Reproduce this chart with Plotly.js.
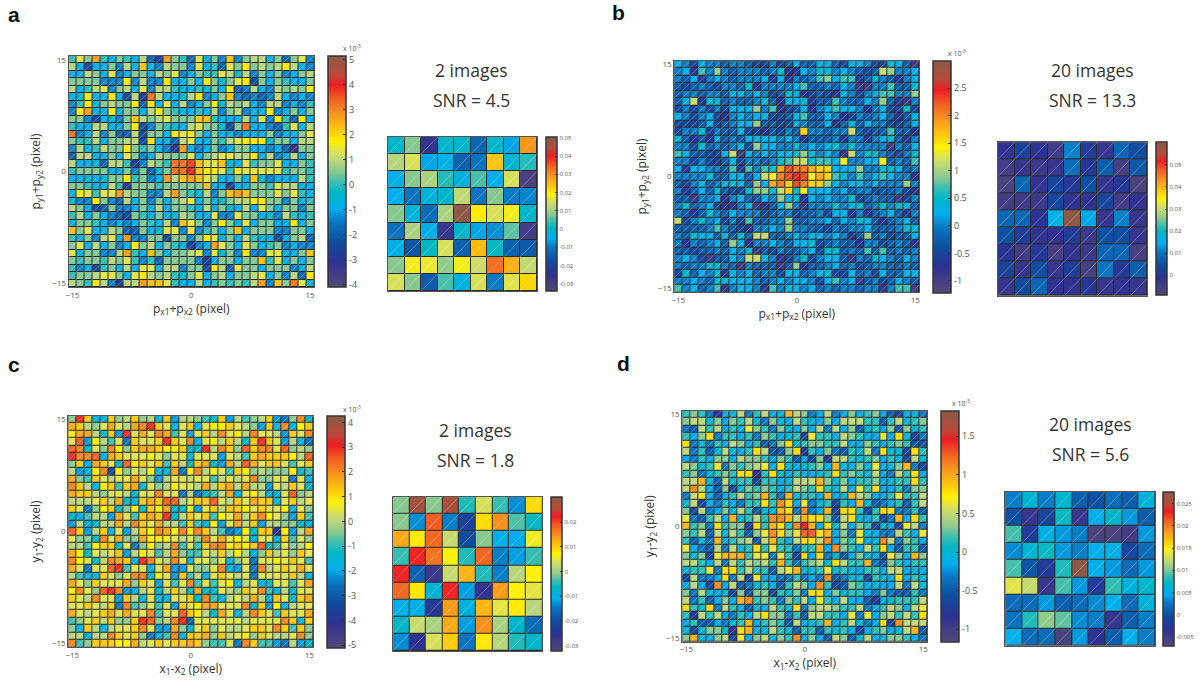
<!DOCTYPE html>
<html><head><meta charset="utf-8"><script src="https://cdn.plot.ly/plotly-3.0.1.min.js"></script>
<style>html,body{margin:0;padding:0;background:#fff}</style></head><body><div id="chart" style="width:1204px;height:684px"></div>
<script>
// Big panel values: integer steps, multiplied by the panel's step (x 10^-3)
const stepA=0.46, stepB=0.23, stepC=0.42, stepD=0.16;
const panelA=[
[0,3,1,6,0,-2,1,0,-2,2,-4,-6,6,1,0,-4,3,-2,1,-3,5,-3,1,2,2,-2,1,-4,1,3,-3],
[2,-2,-5,-2,-2,1,-3,2,-2,5,-2,-3,2,1,1,-3,3,-2,0,-4,3,1,4,1,2,1,2,4,2,-2,-3],
[-2,-2,2,1,-2,3,-3,-2,1,1,-2,2,1,3,-3,-2,1,0,0,3,2,-1,2,-3,1,-2,1,-3,-2,1,2],
[1,1,1,1,-3,-3,-3,4,-3,2,-3,-3,4,-2,-2,1,-2,4,1,-1,1,3,4,-5,1,-2,1,0,-2,-2,1],
[2,-2,0,2,3,-3,1,2,-2,3,-3,2,2,0,-1,-2,0,-1,1,-2,4,-4,-3,2,-2,-3,2,1,2,1,4],
[-2,-1,4,-2,-2,4,-2,-5,2,-6,7,2,-2,-2,-1,2,4,-3,-2,1,5,-3,-4,-3,-4,-3,2,-2,-3,-2,-3],
[-3,0,4,-1,1,2,1,1,4,-4,4,-2,3,-2,2,-3,-2,1,4,-1,2,1,2,-2,-3,2,2,-3,-2,-3,0],
[-3,4,6,-2,-2,4,-2,1,1,-2,2,4,1,0,-2,-2,0,-2,2,-3,1,2,-3,-2,-2,4,-3,-2,1,-2,1],
[1,1,-3,-5,-2,-1,-3,1,5,2,1,2,3,1,1,1,5,5,0,-2,-2,-2,2,-2,3,-3,4,0,-4,4,-2],
[0,-2,-2,2,2,-2,-2,1,4,-5,-3,1,0,-1,-2,2,3,1,1,-1,-5,1,7,-2,-2,-3,-4,0,3,-2,2],
[7,-3,-2,2,-3,1,-4,-4,2,-5,1,1,-2,4,3,4,1,-2,1,-2,-2,-3,-2,-2,-2,1,-3,-2,-2,1,3],
[1,0,0,2,-2,1,1,2,2,-5,4,-2,-2,-4,2,3,-2,-2,1,0,2,3,4,4,4,-1,1,1,-2,2,2],
[-3,2,-2,0,2,1,1,4,1,0,1,-2,-3,-6,6,-2,-3,-2,1,-3,-2,1,1,-2,-2,-3,-2,-4,-7,1,1],
[-4,2,2,-2,-2,1,-2,3,1,-3,-2,2,1,1,1,3,-2,1,2,3,3,2,2,4,-2,2,-3,-2,2,-2,1],
[2,-2,-2,-1,-4,2,2,0,-6,-3,2,1,0,7,7,8,5,3,3,5,-1,-2,3,0,1,1,3,-2,-2,1,0],
[0,1,1,1,1,-2,-2,1,-3,1,-4,-1,1,7,7,9,5,4,4,3,0,4,3,3,3,3,3,0,1,1,0],
[-2,-2,-1,-2,-1,1,1,4,0,1,-3,-2,6,2,5,6,5,3,2,-2,-2,1,-2,5,-1,-3,-2,-2,-2,2,0],
[1,1,0,-2,-2,2,0,-6,1,1,1,0,1,1,1,1,1,5,-2,-2,-6,-2,-2,1,1,0,3,2,2,-2,-2],
[-2,4,3,0,3,3,6,2,1,1,-3,-3,2,6,1,0,-1,2,-3,1,5,6,5,1,1,1,3,1,3,0,-2],
[-1,-3,-3,4,1,-3,-4,2,-2,1,-3,1,-2,1,2,3,-2,1,-1,-1,1,2,2,4,4,1,1,-3,1,-2,0],
[2,1,-2,-5,-4,1,-3,-3,-2,1,-2,2,-2,1,1,0,-2,2,-2,1,-1,-2,2,-2,3,1,-2,1,1,-3,1],
[0,2,-2,1,-2,-3,-4,-5,1,0,-2,1,-2,-1,2,1,-2,-2,3,-3,-3,3,1,1,-2,-1,-3,2,0,-2,0],
[-2,1,1,0,-2,-3,-2,-3,-2,1,0,-2,2,-3,5,3,1,-3,1,4,1,-2,3,-2,1,1,-2,-2,4,-2,1],
[5,1,3,-2,-2,2,1,-4,-4,1,-2,-1,3,3,-3,3,-3,0,1,-2,1,5,-2,1,1,1,-3,-3,1,1,-2],
[0,-2,1,-3,2,3,-2,6,-3,-3,1,1,-5,1,1,-3,1,4,3,-2,1,-2,2,0,-1,-2,-5,-2,1,2,-4],
[1,3,-2,2,-2,1,-3,-2,4,1,2,-2,1,0,-2,-6,-3,-2,6,3,1,-2,3,1,-2,0,1,-3,-2,-3,-3],
[3,-2,1,1,-3,-3,2,6,0,-2,5,1,-2,1,1,2,3,-3,3,-1,1,-3,4,-3,-3,3,3,-2,-2,1,5],
[1,0,1,1,0,2,1,3,0,-3,0,-4,1,1,1,1,-3,-6,-2,1,1,-2,1,1,5,0,3,-2,1,-2,1],
[0,-3,-2,-5,0,1,-2,2,-2,3,3,-2,2,2,-3,1,1,-5,4,2,-4,3,1,1,-2,1,1,1,-3,-2,2],
[0,1,1,2,3,3,1,-2,3,4,2,1,2,0,-1,1,3,-2,1,2,-2,1,1,2,3,-2,1,-3,2,-4,4],
[2,1,0,4,2,-3,-6,2,2,6,5,5,3,0,-2,-2,2,-2,0,1,0,1,0,2,6,-3,5,1,7,3,-1]];
const panelB=[
[1,0,-2,1,0,0,-1,0,0,-1,-2,-2,0,-2,-1,1,-1,-1,1,1,-1,-2,1,1,0,-2,-2,2,1,-1,-4],
[0,1,-3,3,0,4,0,-1,0,0,0,-1,0,2,-3,-3,1,0,2,2,0,1,0,-1,-2,-1,5,4,0,0,1],
[0,-1,1,-3,0,1,0,-1,0,0,0,1,-3,1,-3,0,-1,0,3,4,1,3,3,-3,-1,2,0,-1,-3,0,1],
[-1,-2,-1,0,-1,-2,0,0,-1,2,-3,0,0,0,0,1,3,-1,-1,0,-1,1,0,-4,-4,0,0,3,-1,-1,2],
[-1,0,0,-1,0,0,-1,1,1,0,1,0,-2,-1,2,1,-3,-2,-1,-2,-3,1,0,-2,0,1,3,3,0,0,4],
[-1,1,5,-3,2,2,-1,0,-1,-1,0,2,-1,-3,1,1,2,-3,-1,-1,3,0,-1,-1,1,0,4,-1,-3,-4,0],
[-2,0,-2,0,-2,0,-2,1,1,1,4,0,3,-3,-2,-1,1,-3,0,1,3,1,1,0,-3,0,1,-2,-2,2,-2],
[1,0,-2,0,1,-2,-3,0,1,0,1,1,-2,-2,-1,1,3,-1,-1,1,0,-3,-2,0,-1,0,1,-1,-3,-1,1],
[-2,-2,-2,-1,1,-2,-1,0,1,1,4,-1,-1,-2,-2,1,0,-1,-1,1,-3,-1,1,-1,1,0,0,-2,-2,-1,1],
[-2,0,0,2,-2,0,-1,-1,1,-2,-2,-3,-1,-2,0,-1,7,0,0,-1,0,0,5,-1,-2,-1,-1,3,-1,-1,-3],
[2,-1,-3,-1,-3,1,-1,0,-1,1,1,1,1,0,1,0,-3,-1,-1,-1,0,-3,0,0,-3,0,1,2,-1,-3,0],
[0,0,-2,2,-1,0,-1,0,1,-2,4,1,1,0,0,2,0,1,0,1,2,0,2,0,0,0,0,-4,0,-1,1],
[3,1,-1,-1,-2,-2,1,5,-4,1,0,1,0,1,1,2,4,2,0,1,0,-3,5,0,2,2,0,-1,-2,0,2],
[0,0,-2,0,-2,-3,-1,1,-2,0,0,-1,0,2,3,5,5,2,3,3,1,6,0,0,1,1,6,-1,0,-1,3],
[1,-3,1,1,0,0,-1,3,-3,3,0,3,2,8,10,9,9,8,7,7,1,1,1,4,0,0,2,2,1,-1,0],
[0,0,0,0,2,-1,-1,1,1,-1,1,5,6,9,10,11,10,6,8,7,3,2,0,3,0,1,3,1,0,0,-3],
[-1,-2,0,1,-1,0,1,2,1,-1,4,1,8,9,7,10,9,7,7,4,1,0,1,1,0,1,0,0,0,4,0],
[0,-3,-1,1,-1,2,-1,-2,-2,2,4,4,2,5,7,2,6,1,1,1,0,1,-1,0,0,-2,-1,-1,0,-2,-3],
[-1,-1,-4,0,0,1,-3,0,1,-1,-1,1,0,4,1,2,-3,1,0,1,0,0,2,-2,-1,0,-1,-1,-4,-2,0],
[0,2,-1,0,1,-2,-3,-3,0,1,-4,-3,-1,1,4,0,-4,0,0,0,2,0,1,2,-1,0,2,0,2,1,-1],
[0,-1,-3,-1,2,0,-1,1,0,0,0,-2,-1,0,0,-2,-1,-1,0,-2,1,1,-3,0,-3,-1,0,1,-1,-3,0],
[5,-2,0,2,0,1,-2,0,-2,3,-1,-1,0,0,4,-1,-1,0,0,1,-1,1,0,2,1,-1,-3,-1,0,1,-1],
[-1,-1,-1,-1,0,3,0,-1,-2,-3,0,0,1,0,4,0,0,-1,-1,-2,0,-1,0,0,1,-1,-1,-1,0,2,2],
[0,-1,2,1,1,-1,1,-1,2,-1,5,5,-1,-1,0,1,0,1,1,0,1,0,-3,-1,4,-1,0,-2,-1,-1,1],
[0,-3,0,-1,0,1,-1,4,1,-3,0,0,1,0,-1,1,1,2,-2,-1,0,-1,-1,-3,0,0,-2,-1,0,-1,-3],
[-1,-1,-2,-1,-1,0,-1,1,0,2,-4,-1,-2,0,-1,-1,0,1,-2,2,2,-1,0,-1,3,-1,3,-1,0,-1,0],
[0,1,0,-2,-4,-1,-1,1,0,5,5,1,0,-3,-2,0,2,-2,0,1,1,-1,-4,0,-1,2,1,0,-1,1,0],
[0,-1,0,0,2,2,0,-1,-4,0,-1,-1,-1,-4,-1,4,-3,-1,-1,0,1,-1,0,-2,-1,0,0,-1,-1,0,-1],
[-2,2,-1,1,0,2,-3,1,0,1,-1,0,0,-2,1,1,-1,0,1,2,-2,-2,1,-1,0,-2,1,-1,-1,1,1],
[0,0,1,0,-1,2,2,1,1,1,0,-1,0,1,0,1,1,0,-2,1,3,0,1,-4,-1,0,-2,-1,1,0,-1],
[3,0,1,-1,0,3,-3,0,1,1,0,-3,3,0,1,1,0,1,-1,0,-1,0,0,-1,0,0,-3,0,3,3,-4]];
const panelC=[
[-1,7,3,-4,-4,3,-1,0,3,-1,0,-4,3,-5,0,0,-1,-2,-3,3,-5,0,-2,-1,0,3,-5,-6,-1,5,-3],
[4,3,0,-1,1,4,1,0,4,5,7,3,1,-4,1,3,-4,1,2,2,3,1,0,-1,-5,3,-4,5,-4,2,3],
[2,4,4,0,-3,3,-5,7,1,4,1,5,4,-2,1,-5,1,3,0,5,1,2,0,5,1,1,0,-5,3,1,5],
[1,6,-5,2,0,-2,1,-6,3,1,1,3,7,3,1,5,-4,1,2,0,3,0,-3,3,7,3,1,-5,0,-4,-6],
[6,5,-3,1,-1,5,2,-1,3,4,4,3,2,2,3,-3,-3,7,0,5,3,-1,6,3,5,5,1,6,-1,0,-1],
[7,5,5,6,-4,4,3,1,1,1,2,1,-1,1,1,-4,1,1,1,-5,1,0,-2,3,4,3,3,3,2,0,6],
[-1,3,-4,4,3,1,-3,6,2,3,1,3,-2,3,0,-3,3,4,-3,-5,4,0,6,4,1,3,3,1,-2,1,3],
[0,-5,-4,2,5,-8,2,-1,1,0,2,-4,-3,4,-6,2,5,0,2,1,-2,3,2,-1,0,-1,-1,-1,2,-3,-2],
[4,-1,-2,3,1,0,1,1,4,1,-1,-5,0,1,1,0,1,1,-2,0,1,0,1,5,-1,-1,1,1,-6,1,-4],
[5,3,0,-4,2,3,-2,3,4,-3,1,-1,0,2,1,1,0,4,0,3,4,0,4,0,0,-5,1,0,3,1,-3],
[4,3,3,0,-1,1,1,0,-3,1,1,5,1,1,-6,0,-6,-3,-2,0,4,-4,1,2,0,-4,-4,1,6,-1,0],
[0,0,0,1,3,0,4,-3,-4,3,4,3,6,6,0,1,3,3,6,1,0,3,1,4,3,3,-3,1,3,0,1],
[3,1,-6,-1,2,3,-3,-1,2,-3,3,2,4,-3,-3,2,-5,1,3,0,3,3,2,1,3,1,1,2,-4,1,-1],
[-3,-4,-2,0,0,-5,4,1,-2,3,4,3,7,-3,0,3,1,3,-2,2,1,4,0,3,5,2,1,-1,-5,3,-2],
[-5,0,-4,-3,0,0,4,0,5,3,1,4,0,0,-2,3,-2,-4,2,-5,1,4,0,3,-5,0,0,-1,-1,-3,-4],
[6,3,-5,0,3,-4,1,-5,0,3,2,5,4,2,5,2,5,3,0,-2,-6,-5,2,-3,3,3,-9,2,-5,0,4],
[1,-1,-1,-3,5,1,4,-1,-1,4,2,2,2,1,0,1,-1,5,1,4,1,2,1,-4,1,1,-4,3,-2,1,-1],
[0,0,-2,2,3,3,-3,1,-6,-1,2,-1,0,5,-2,1,-2,3,5,5,2,3,2,3,6,-3,-2,1,-1,0,2],
[4,2,-3,1,0,1,3,-5,0,2,1,-2,0,4,-1,-2,-2,1,0,3,0,2,0,-4,-1,3,0,1,-1,3,1],
[5,2,1,-3,0,5,4,3,-4,7,5,1,0,5,1,-4,1,1,-1,1,-4,-1,1,-6,1,1,2,1,3,1,-2],
[4,1,-6,1,1,6,7,-2,1,1,-4,1,4,-5,-5,1,-1,-1,1,5,-4,-5,1,-6,5,0,1,3,1,4,1],
[0,-2,-4,-4,3,1,-1,1,5,5,-3,2,1,-5,3,-2,0,-4,1,3,1,0,1,-6,1,1,1,1,3,0,-4],
[4,1,-1,3,1,1,1,4,-1,3,1,-5,1,-2,1,5,-2,1,-2,1,2,-4,0,1,-4,-3,1,1,-2,1,4],
[2,5,1,-1,6,7,5,-5,-4,0,1,-3,0,3,0,-3,4,-3,-3,1,0,-1,3,1,5,-2,-4,0,-3,1,1],
[3,1,0,5,1,1,-5,3,0,-4,1,-4,-4,1,1,3,-3,5,-2,-4,0,1,0,4,0,-4,3,1,-3,3,4],
[1,1,3,1,0,3,-6,5,-2,-1,1,-2,1,-5,3,1,2,4,4,1,1,1,5,-3,3,-5,2,-4,0,1,1],
[4,1,0,1,3,4,1,4,1,1,5,-2,1,1,6,3,2,0,-3,4,1,-4,0,5,3,1,-2,3,1,1,4],
[-2,-1,1,3,0,3,-1,-1,3,7,6,-1,0,5,7,-7,1,1,1,1,1,1,0,1,1,1,1,5,3,-4,3],
[-1,-4,3,0,-4,0,1,1,3,5,1,-5,-5,4,-1,-4,1,3,-1,1,0,0,1,3,3,1,5,3,-2,3,-1],
[0,0,-4,0,0,5,3,1,3,-1,-6,-4,-2,5,-4,3,3,4,-1,3,0,1,2,-1,3,1,0,0,1,5,-1],
[5,-2,-1,3,3,3,2,2,4,0,1,3,1,3,3,4,3,-1,-2,-2,1,-6,5,3,-2,-2,-5,-6,0,-5,-3]];
const panelD=[
[1,2,1,-2,-5,-1,0,3,-2,1,3,-1,0,6,3,2,-2,-1,3,-2,-1,2,-1,1,2,-1,-3,-4,-1,0,-2],
[2,3,3,0,2,-1,2,1,3,0,-2,2,0,-1,3,1,0,-1,2,-1,3,3,3,1,1,-3,1,3,0,1,2],
[-2,-3,3,1,3,-1,1,0,4,2,1,-2,2,0,-1,2,-1,3,-2,3,-1,2,-3,0,1,-1,2,-3,2,0,1],
[1,-1,2,5,-2,1,1,-1,1,-2,2,1,-1,0,1,-4,4,1,1,-1,3,2,1,-1,-1,4,-1,5,0,-4,-2],
[5,-2,0,-2,1,-1,3,2,-1,1,-3,-2,2,5,0,1,2,2,1,1,3,-1,-1,2,1,-1,1,2,1,-3,-3],
[3,-2,1,-3,0,3,0,-1,1,5,3,-3,-3,2,5,-5,1,-1,2,-2,-3,1,0,3,-2,5,0,0,-4,5,1],
[-1,-2,1,-1,2,2,-1,3,2,2,1,-1,2,1,-3,-1,-4,2,-5,3,3,1,0,1,2,-1,1,0,-4,3,0],
[3,2,0,1,4,-2,2,1,2,3,4,-1,5,0,-1,0,1,2,-1,6,0,-1,2,0,4,-1,0,2,6,-2,-4],
[1,2,-2,0,1,2,1,5,5,-5,1,5,0,-1,1,-1,-1,0,1,5,1,2,1,0,3,-1,-2,3,1,5,-1],
[3,3,6,0,-3,3,0,1,1,-4,1,1,-1,0,3,3,3,6,2,0,2,-1,1,1,2,-1,0,1,1,5,1],
[3,7,3,-1,-3,2,-4,0,2,1,2,1,-1,1,3,2,1,5,1,0,3,-1,4,1,5,-1,-1,1,-2,2,2],
[-2,3,5,-1,-3,-1,1,3,1,2,6,1,-2,6,0,1,1,-1,6,-1,0,6,3,2,-1,-1,1,4,1,1,3],
[0,3,-4,-1,-2,1,-1,-2,1,1,5,1,7,5,-1,4,-2,0,1,-4,1,-1,6,0,-3,-2,-1,1,-3,1,3],
[2,-4,3,-2,-1,2,0,3,1,-3,0,0,6,5,-2,7,-2,-1,6,-4,5,5,1,-4,1,5,5,-2,-2,1,-3],
[4,-2,-3,1,3,-1,6,0,1,3,1,7,7,6,3,6,5,5,2,-3,3,5,0,-1,1,-4,-2,6,-1,5,1],
[6,1,2,-2,5,1,2,2,-4,5,1,6,5,1,7,9,6,-1,5,0,3,-1,2,1,-4,0,-1,-4,4,3,-2],
[2,1,3,-3,3,0,3,1,-3,2,4,7,5,2,4,8,8,5,6,-1,2,-2,4,0,-1,-2,-2,3,1,-1,4],
[1,-3,0,-2,6,-1,1,2,3,-3,3,6,1,-1,3,5,5,3,7,-1,2,1,4,-1,0,7,3,-2,2,1,-1],
[4,-1,-2,-3,3,-2,3,0,1,5,1,4,1,1,-2,1,1,6,-1,7,2,1,-1,3,1,5,-1,-3,1,1,-3],
[2,0,2,-4,4,6,6,6,1,4,4,-2,4,1,-4,5,-1,5,-2,0,-3,-1,2,0,-1,-3,4,2,-1,6,2],
[3,3,1,-1,3,-2,3,1,3,2,3,1,6,1,-2,1,2,3,0,5,3,1,1,6,-2,-3,2,1,-1,1,1],
[0,1,1,4,-2,5,5,1,3,1,1,-3,3,4,6,0,0,1,4,0,1,0,-1,1,1,-1,3,3,-1,0,-1],
[-4,3,-2,-2,-1,5,-2,3,-4,4,-1,-1,-2,-2,1,-2,-1,-2,7,-3,-2,0,0,-4,1,0,-1,5,-1,1,0],
[-1,3,-1,-4,7,-1,3,-3,-2,0,1,-1,-3,1,3,2,-1,7,1,-4,-3,2,1,-1,0,-1,-1,3,-2,3,0],
[2,-2,3,0,-1,0,-4,2,-3,2,2,-4,1,0,2,-2,5,5,-1,2,0,1,1,-1,-2,2,-2,-3,-3,1,-2],
[3,-2,1,-3,-1,2,-1,6,7,1,2,1,-2,2,1,3,-1,4,1,-1,3,-1,-1,-3,-5,-1,0,1,1,1,3],
[5,1,0,5,-2,3,1,-1,-3,0,-1,3,1,0,5,-2,2,3,3,2,1,1,3,-2,-1,1,3,2,-1,3,4],
[1,-5,3,1,3,-1,-2,1,-1,3,5,2,2,-2,1,-3,3,3,1,1,-1,4,-2,4,-1,2,3,1,3,1,5],
[-1,1,-3,-3,-1,-2,0,1,6,-1,1,2,1,-3,3,-1,0,1,6,-1,1,3,0,-2,-1,5,-4,7,3,3,3],
[0,-4,0,2,2,0,-5,5,6,-1,0,3,1,0,-3,1,1,-3,1,0,1,-1,-4,-1,1,2,-1,0,3,6,-3],
[2,6,0,-1,2,3,-4,4,-1,2,3,0,2,1,7,-1,2,-1,-3,3,2,-3,0,3,-1,0,2,2,1,-1,-2]];
const smallA=[
[0,.008,-.026,0,0,-.013,0,-.006,.029],
[.012,.015,-.006,-.004,-.014,-.011,.024,-.001,.003],
[-.004,.008,.011,.003,-.003,.005,-.005,.015,-.031],
[-.005,-.011,-.002,0,.013,-.011,.008,-.01,-.009],
[.008,-.002,-.012,.011,.05,.02,.015,.018,0],
[-.011,.011,-.004,-.027,0,-.006,-.008,.006,-.029],
[-.004,-.016,.001,.015,-.014,.025,.001,-.014,-.015],
[.008,.018,.017,.009,.018,.014,.033,.026,.013],
[.015,.008,-.015,.005,-.003,.015,-.01,.016,.022]];
const smallB=[
[-.002,.002,-.001,-.005,.011,.001,-.003,.008,.004],
[-.005,-.003,-.004,-.003,.009,0,.007,-.006,.006],
[-.007,.008,-.002,.003,0,.005,-.003,0,-.007],
[-.005,-.005,-.004,.003,-.002,-.002,.003,-.005,-.002],
[.008,.008,-.001,.016,.06,.014,-.003,.011,-.003],
[.005,.001,-.002,-.002,.001,-.004,.005,.004,-.003],
[-.001,-.005,0,-.006,-.002,-.004,.008,.008,-.006],
[.002,-.003,.004,-.003,.001,-.006,.01,0,.007],
[-.003,.004,.008,-.002,-.002,0,-.003,-.002,-.003]];
const smallC=[
[-.001,.028,-.001,.027,-.005,.004,-.004,-.013,.009],
[-.001,-.013,.019,-.014,-.022,.009,.015,-.003,-.006],
[.013,.008,.018,.003,-.02,-.001,-.01,-.011,.006],
[-.004,.022,.017,.007,-.005,.018,-.014,-.012,-.004],
[.022,-.017,-.027,.003,.012,-.005,-.014,.002,.007],
[.018,.008,-.008,.022,-.012,-.026,.014,.007,.005],
[-.01,-.01,-.024,.014,-.009,.012,.005,.008,.002],
[-.007,.003,.001,.013,-.012,.015,.001,-.007,-.016],
[-.013,-.025,.004,.01,-.015,.008,.002,-.005,-.007]];
const smallD=[
[.003,.0065,.003,.0065,.001,0,.002,.001,.006],
[0,-.004,-.001,.0075,-.004,.005,.007,.004,.001],
[.009,-.002,.0055,.004,.003,-.006,-.006,-.005,.004],
[.0035,.0065,.0075,.004,.003,.005,.0055,-.001,.002],
[.009,.0005,-.002,.008,.0277,.005,.004,.002,.004],
[.0135,.0125,-.004,.009,.004,-.002,.0085,.006,.0068],
[.002,.002,.004,.001,.002,.0035,.005,.002,.006],
[.0025,.008,.0105,.0095,.0035,.003,-.004,.001,.003],
[.005,.002,.002,-.006,.004,-.003,.001,.005,.003]];
const axisTicks=[-15,0,15];
const cbTicksA=[-4,-3,-2,-1,0,1,2,3,4,5];
const cbTicksB=[-1,-0.5,0,0.5,1,1.5,2,2.5];
const cbTicksC=[-5,-4,-3,-2,-1,0,1,2,3,4];
const cbTicksD=[-1,-0.5,0,0.5,1,1.5];
const cbTicksSA=[-.03,-.02,-.01,0,.01,.02,.03,.04,.05];
const cbTicksSB=[0,.01,.02,.03,.04,.05];
const cbTicksSC=[-.03,-.02,-.01,0,.01,.02];
const cbTicksSD=[-.005,0,.005,.01,.015,.02,.025];
const cbTextSD=['-0.005','0','0.005','0.01','0.015','0.02','0.025'];
const captions=[['2 images','SNR = 4.5'],['20 images','SNR = 13.3'],['2 images','SNR = 1.8'],['20 images','SNR = 5.6']];
const letters=['a','b','c','d'];

const W=1204,H=684;
const cmap=[[0,'#4f4a75'],[.06,'#433d87'],[.11,'#2e3192'],[.2,'#0e4fa0'],[.28,'#0b76c0'],[.34,'#00aeef'],[.41,'#00b6c4'],[.46,'#45bfae'],[.5,'#8cc98f'],[.55,'#bcd77c'],[.59,'#dfe34e'],[.63,'#fff200'],[.68,'#ffc90e'],[.75,'#f7941d'],[.82,'#f15a24'],[.875,'#ed1c24'],[.92,'#b94a3a'],[1,'#8c5a47']];
const traces=[],annotations=[],layout={};
function addPanel(n,cfg){
  const xk='xaxis'+(n===1?'':n),yk='yaxis'+(n===1?'':n),xa='x'+(n===1?'':n),ya='y'+(n===1?'':n);
  const N=cfg.z.length,big=N>9;
  const cx=cfg.z[0].map((_,i)=>big?i-15:i+1);
  const cy=cfg.z.map((_,i)=>big?15-i:9-i);
  traces.push({type:'heatmap',z:cfg.z,x:cx,y:cy,xaxis:xa,yaxis:ya,xgap:1,ygap:1,zmin:cfg.zmin,zmax:cfg.zmax,colorscale:cmap,zsmooth:false,hoverinfo:'skip',
    colorbar:{x:cfg.cb[0]/W,xanchor:'left',xref:'paper',xpad:0,ypad:0,thickness:cfg.cb[1]-cfg.cb[0],thicknessmode:'pixels',
      y:1-cfg.py[0]/H,yanchor:'top',len:(cfg.py[1]-cfg.py[0])/H,lenmode:'fraction',outlinecolor:'#333',outlinewidth:1.5,
      ticks:'inside',ticklen:big?3:2,tickcolor:'#333',tickvals:cfg.ticks,ticktext:cfg.text||cfg.ticks.map(String),
      tickfont:{family:'Open Sans',size:big?9:6,color:'#555'}}});
  const dx=[],dy=[];
  cx.forEach(x=>cy.forEach(y=>{dx.push(x-.5,x+.5,null);dy.push(y-.5,y+.5,null);}));
  traces.push({type:'scatter',mode:'lines',x:dx,y:dy,xaxis:xa,yaxis:ya,line:{color:'rgba(255,255,255,0.55)',width:.5},hoverinfo:'skip',showlegend:false});
  const lim=big?15.5:9.5,lo=big?-15.5:.5;
  layout[xk]={domain:[cfg.px[0]/W,cfg.px[1]/W],range:[lo,lim],anchor:ya,showgrid:false,zeroline:false,mirror:true,showline:true,linecolor:'#555',linewidth:1,
    tickvals:big?axisTicks:[],ticks:'',tickfont:{family:'Open Sans',size:8,color:'#555'},showticklabels:big,ticklen:0,
    title:big?{text:cfg.xt,standoff:2,font:{family:'Open Sans',size:12,color:'#333'}}:undefined};
  layout[yk]={domain:[1-cfg.py[1]/H,1-cfg.py[0]/H],range:[lo,lim],anchor:xa,showgrid:false,zeroline:false,mirror:true,showline:true,linecolor:'#555',linewidth:1,
    tickvals:big?axisTicks:[],ticks:'',tickfont:{family:'Open Sans',size:8,color:'#555'},showticklabels:big,ticklen:0,
    title:big?{text:cfg.yt,standoff:8,font:{family:'Open Sans',size:12,color:'#333'}}:undefined};
}
const scale=(rows,s)=>rows.map(r=>r.map(v=>v*s));
const xp='p<sub>x1</sub>+p<sub>x2</sub> (pixel)',yp='p<sub>y1</sub>+p<sub>y2</sub> (pixel)',xd='x<sub>1</sub>-x<sub>2</sub> (pixel)',yd='y<sub>1</sub>-y<sub>2</sub> (pixel)';
addPanel(1,{z:scale(panelA,stepA),zmin:-4.1,zmax:5.15,px:[68.5,314],py:[56,287],cb:[327.7,345.7],ticks:cbTicksA,xt:xp,yt:yp});
addPanel(2,{z:smallA,zmin:-.034,zmax:.0505,px:[388,537],py:[137,291],cb:[545.7,556.7],ticks:cbTicksSA});
addPanel(3,{z:scale(panelB,stepB),zmin:-1.215,zmax:3,px:[674.3,919.3],py:[60.7,292.3],cb:[933.3,951],ticks:cbTicksB,xt:xp,yt:yp});
addPanel(4,{z:smallB,zmin:-.0092,zmax:.0603,px:[998,1147],py:[142.3,295.7],cb:[1156,1167.3],ticks:cbTicksSB});
addPanel(5,{z:scale(panelC,stepC),zmin:-5.1,zmax:4.27,px:[68.3,313.3],py:[415.7,647.3],cb:[327.3,345.7],ticks:cbTicksC,xt:xd,yt:yd});
addPanel(6,{z:smallC,zmin:-.0321,zmax:.0303,px:[392.7,542.3],py:[496.7,651],cb:[550.7,561.7],ticks:cbTicksSC});
addPanel(7,{z:scale(panelD,stepD),zmin:-1.16,zmax:1.83,px:[682.3,927.3],py:[410.7,641.7],cb:[941,959],ticks:cbTicksD,xt:xd,yt:yd});
addPanel(8,{z:smallD,zmin:-.007,zmax:.0277,px:[1005.3,1155.3],py:[491.7,645.7],cb:[1163.3,1174.3],ticks:cbTicksSD,text:cbTextSD});
function note(text,x,y,size,extra){annotations.push(Object.assign({text,x:x/W,y:1-y/H,xref:'paper',yref:'paper',showarrow:false,xanchor:'center',yanchor:'middle',font:{family:'Open Sans',size,color:'#333'}},extra||{}));}
[[471,70,100],[1092,70,100],[475,430,460],[1090,424,454]].forEach((p,i)=>{note(captions[i][0],p[0],p[1],17.5);note(captions[i][1],p[0],p[2],17.5);});
[[14,15],[618,12],[14,365],[623,363]].forEach((p,i)=>note('<b>'+letters[i]+'</b>',p[0],p[1],21,{font:{family:'Liberation Sans',size:21,color:'#111'}}));
[[352,48],[957,53],[352,409],[961,403]].forEach(p=>note('x 10<sup>-3</sup>',p[0],p[1],7,{font:{family:'Open Sans',size:7,color:'#555'}}));
Object.assign(layout,{width:W,height:H,margin:{l:0,r:0,t:0,b:0},paper_bgcolor:'#fff',plot_bgcolor:'#2a2a2a',showlegend:false,annotations});
Plotly.newPlot('chart',traces,layout,{displayModeBar:false,staticPlot:true});
</script></body></html>
